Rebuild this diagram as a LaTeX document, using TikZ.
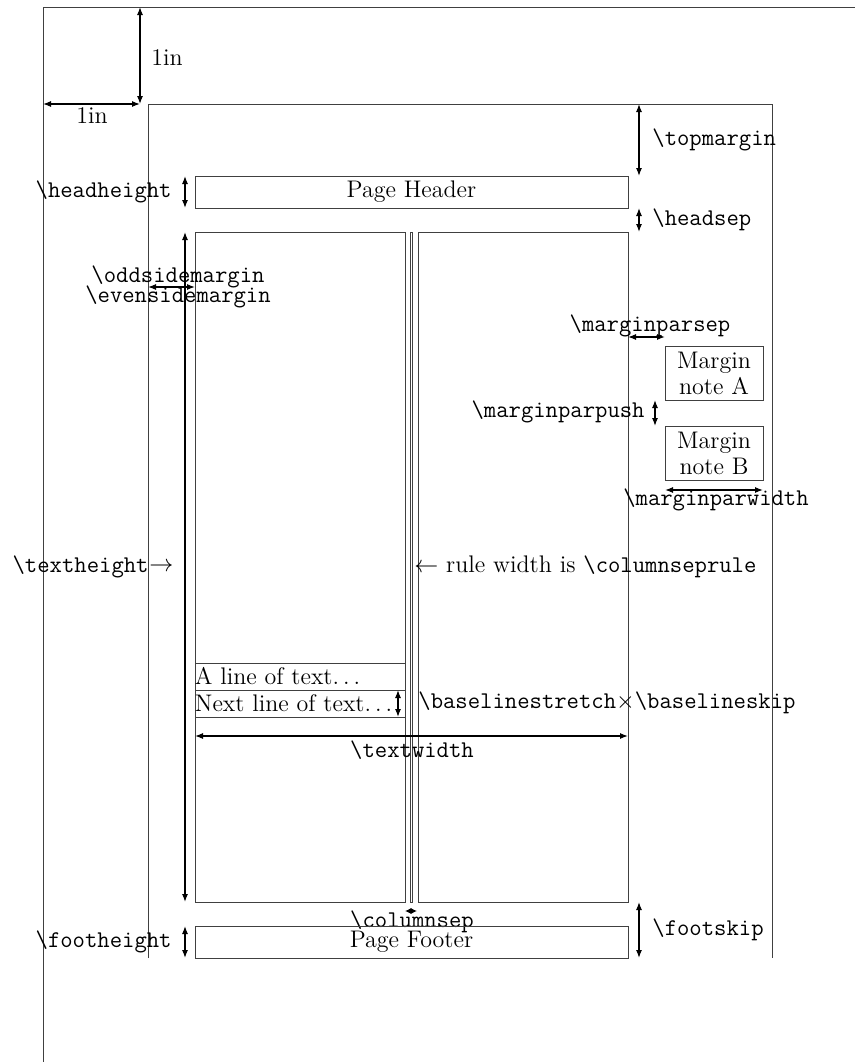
\documentclass[tikz,border=0pt,12pt]{standalone}
\usetikzlibrary{arrows.meta}
\begin{document}
\begin{tikzpicture}[x=0.5pt,y=-0.5pt,
  frame/.style={draw=black!75,line width=0.5pt},
  dim/.style={{Latex[length=4pt,width=3pt]}-{Latex[length=4pt,width=3pt]},line width=0.6pt},
  lbl/.style={inner sep=0pt,font=\ttfamily},
  rmlbl/.style={inner sep=0pt}]
\useasboundingbox (0,0) rectangle (855,1062);
% outer page
\coordinate (pTL) at (43,7);
\coordinate (pTR) at (855,7);
\coordinate (pBL) at (43,1062);
\draw[frame] (pBL) -- (pTL) -- (pTR);
% inner page
\coordinate (iTL) at (148,104);
\coordinate (iTR) at (772,104);
\coordinate (iBL) at (148,958);
\coordinate (iBR) at (772,958);
\draw[frame] (iBL) -- (iTL) -- (iTR) -- (iBR);
% 1in arrows
\coordinate (vA) at (140,7);
\coordinate (vB) at (140,104);
\draw[dim] (vA) -- (vB);
\node[rmlbl,anchor=west] (oneinv) at (151,58) {1in};
\coordinate (hA) at (43,104);
\coordinate (hB) at (140,104);
\draw[dim] (hA) -- (hB);
\node[rmlbl] (oneinh) at (92,116) {1in};
% header
\node[frame,minimum width=433*0.5pt,minimum height=32*0.5pt,inner sep=0pt] (head) at (411.5,192) {Page Header};
\draw[dim] (185,176) coordinate (hhA) -- (185,208) coordinate (hhB);
\node[lbl,anchor=east] (hhl) at (172,192) {\textbackslash headheight};
% topmargin
\draw[dim] (639,104) coordinate (tmA) -- (639,176) coordinate (tmB);
\node[lbl,anchor=west] (tml) at (652,140) {\textbackslash topmargin};
% headsep
\draw[dim] (639,208) coordinate (hsA) -- (639,232) coordinate (hsB);
\node[lbl,anchor=west] (hsl) at (652,220) {\textbackslash headsep};
% columns
\node[frame,minimum width=210*0.5pt,minimum height=670*0.5pt,inner sep=0pt] (colL) at (300,567) {};
\node[frame,minimum width=210*0.5pt,minimum height=670*0.5pt,inner sep=0pt] (colR) at (523,567) {};
\node[frame,minimum width=2*0.5pt,minimum height=670*0.5pt,inner sep=0pt] (rule) at (411.3,567) {};
% textheight
\draw[dim] (185,232) coordinate (thA) -- (185,902) coordinate (thB);
\node[lbl,anchor=east] (thl) at (149,567) {\textbackslash textheight};
\node[rmlbl,anchor=west] (tha) at (thl.east) {$\rightarrow$};
% odd/even side margin
\draw[dim] (148,287) coordinate (osA) -- (195,287) coordinate (osB);
\node[lbl] (osl) at (178,277) {\textbackslash oddsidemargin};
\node[lbl] (esl) at (178,297) {\textbackslash evensidemargin};
% marginparsep
\draw[dim] (628,337) coordinate (mpsA) -- (665,337) coordinate (mpsB);
\node[lbl] (mpsl) at (650,326) {\textbackslash marginparsep};
% margin notes
\node[frame,minimum width=98*0.5pt,minimum height=54*0.5pt,inner sep=0pt,align=center,font=\linespread{0.9}\selectfont] (mnA) at (714,373) {Margin\\note A};
\node[frame,minimum width=98*0.5pt,minimum height=54*0.5pt,inner sep=0pt,align=center,font=\linespread{0.9}\selectfont] (mnB) at (714,453) {Margin\\note B};
\draw[dim] (655,400) coordinate (mppA) -- (655,426) coordinate (mppB);
\node[lbl,anchor=east] (mppl) at (645,412) {\textbackslash marginparpush};
\draw[dim] (665,490) coordinate (mpwA) -- (763,490) coordinate (mpwB);
\node[lbl] (mpwl) at (716,500) {\textbackslash marginparwidth};
% column rule label
\node[rmlbl,anchor=west] (crl) at (414,567) {$\leftarrow$ rule width is \texttt{\textbackslash columnseprule}};
% lines of text
\node[frame,minimum width=210*0.5pt,minimum height=27*0.5pt,inner sep=0pt] (lineA) at (300,676.5) {};
\node[rmlbl,anchor=west] at (lineA.west) {A line of text$\ldots$};
\node[frame,minimum width=210*0.5pt,minimum height=27*0.5pt,inner sep=0pt] (lineB) at (300,703.5) {};
\node[rmlbl,anchor=west] at (lineB.west) {Next line of text$\ldots$};
\draw[dim] (398,690) coordinate (blA) -- (398,717) coordinate (blB);
\node[rmlbl,anchor=west] (bll) at (418,703) {\texttt{\textbackslash baselinestretch}$\times$\texttt{\textbackslash baselineskip}};
% textwidth
\draw[dim] (195,736) coordinate (twA) -- (628,736) coordinate (twB);
\node[lbl] (twl) at (412,750) {\textbackslash textwidth};
% columnsep
\draw[{Latex[length=3pt,width=3pt]}-{Latex[length=3pt,width=3pt]},line width=0.6pt] (405,911) coordinate (csA) -- (417,911) coordinate (csB);
\node[lbl] (csl) at (412,922) {\textbackslash columnsep};
% footer
\node[frame,minimum width=433*0.5pt,minimum height=32*0.5pt,inner sep=0pt] (foot) at (411.5,942) {Page Footer};
\draw[dim] (185,926) coordinate (fhA) -- (185,958) coordinate (fhB);
\node[lbl,anchor=east] (fhl) at (172,942) {\textbackslash footheight};
\draw[dim] (639,902) coordinate (fsA) -- (639,958) coordinate (fsB);
\node[lbl,anchor=west] (fsl) at (652,930) {\textbackslash footskip};
\end{tikzpicture}
\end{document}
